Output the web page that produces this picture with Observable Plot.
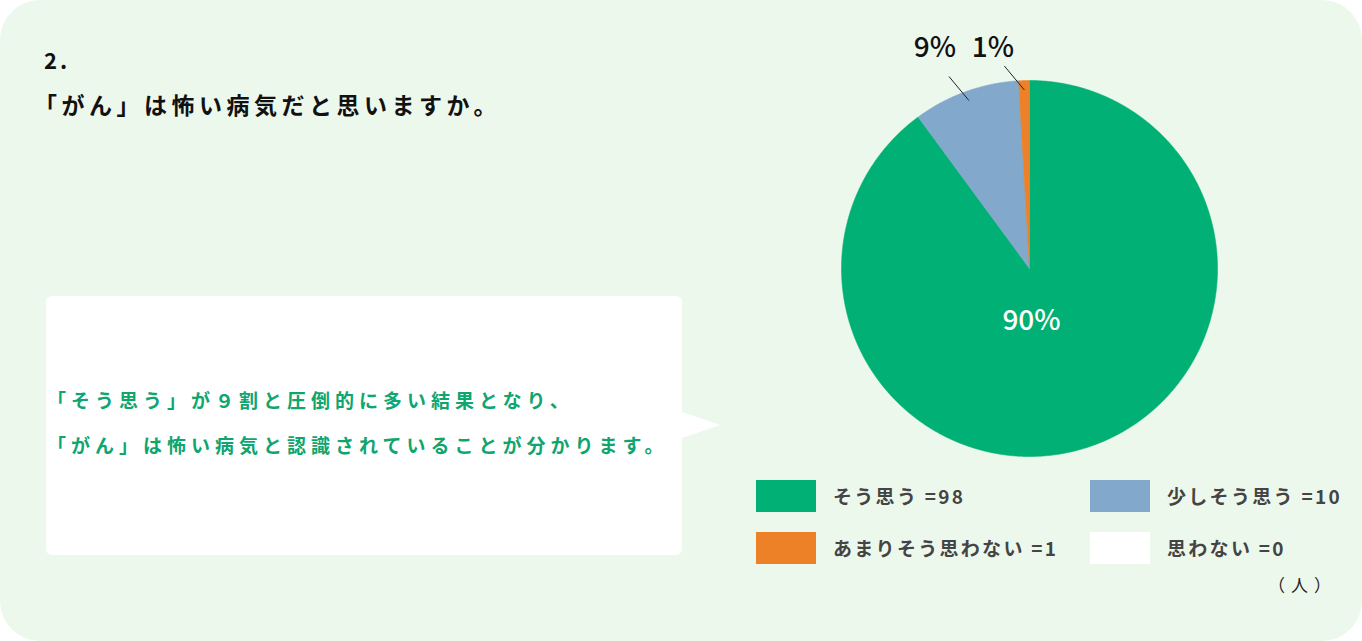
<!DOCTYPE html>
<html><head><meta charset="utf-8">
<script src="https://cdn.jsdelivr.net/npm/d3@7"></script>
<script src="https://cdn.jsdelivr.net/npm/@observablehq/plot@0.6"></script>
<style>
html,body{margin:0;padding:0;background:#ffffff;}
body{font-family:"Noto Sans CJK JP","Noto Sans",sans-serif;width:1362px;height:641px;position:relative;overflow:hidden;}
#card{position:absolute;left:0;top:0;width:1362px;height:641px;background:#edf8ec;border-radius:40px;}
#num{position:absolute;left:44px;top:44px;font-size:22px;line-height:30px;font-weight:700;color:#111;letter-spacing:3px;}
#title{position:absolute;left:34px;top:89px;font-size:23px;line-height:30px;font-weight:700;color:#111;letter-spacing:4.5px;white-space:nowrap;}
#bubble{position:absolute;left:46px;top:296px;width:636px;height:259px;background:#fff;border-radius:6px;}
#tip{position:absolute;left:682px;top:412px;width:0;height:0;border-left:38px solid #fff;border-top:13px solid transparent;border-bottom:13px solid transparent;}
#msg{position:absolute;left:47px;top:377px;font-size:19px;line-height:45px;font-weight:700;color:#0fa56e;letter-spacing:5px;white-space:nowrap;}
#chart{position:absolute;left:780px;top:20px;}
#legend{position:absolute;left:756px;top:480px;width:600px;height:90px;}
.item{position:absolute;height:32px;}
.sw{position:absolute;left:0;top:0;width:60px;height:32px;}
.lab{position:absolute;left:77px;top:0;line-height:32px;font-size:19px;font-weight:700;color:#444;white-space:nowrap;letter-spacing:2.3px;}
#unit{position:absolute;left:1268px;top:571px;font-size:17px;line-height:28px;color:#222;letter-spacing:6px;}
</style></head><body>
<div id="card">
  <div id="num">2.</div>
  <div id="title">「がん」は怖い病気だと思いますか。</div>
  <div id="bubble"></div>
  <div id="tip"></div>
  <div id="msg">「そう思う」が９割と圧倒的に多い結果となり、<br>「がん」は怖い病気と認識されていることが分かります。</div>
  <div id="chart"></div>
  <div id="legend"></div>
  <div id="unit">（人）</div>
</div>
<script>
// ---- data ----
const categories = ["そう思う", "少しそう思う", "あまりそう思わない", "思わない"];
const counts = [98, 10, 1, 0];
const colors = ["#00b074", "#82a8cb", "#ec8127", "#ffffff"];

// ---- geometry (derived) ----
const W = 500, H = 450, CX = 249, CY = 248, R = 188;
const total = d3.sum(counts);
const arcs = d3.pie().sort(null).value(d => d)(counts);

const slicePts = [];
arcs.forEach((a, i) => {
  if (a.value <= 0) return;
  const cat = categories[i];
  slicePts.push({cat, x: 0, y: 0});
  const n = Math.max(2, Math.ceil((a.endAngle - a.startAngle) / 0.005));
  for (let k = 0; k <= n; k++) {
    const t = a.startAngle + (a.endAngle - a.startAngle) * k / n;
    slicePts.push({cat, x: Math.sin(t), y: Math.cos(t)});
  }
  slicePts.push({cat, x: 0, y: 0});
});

const pct = v => Math.round(v / total * 100);
const big = [], small = [];
arcs.forEach((a, i) => {
  if (a.value <= 0) return;
  const mid = (a.startAngle + a.endAngle) / 2;
  const p = a.value / total;
  if (p > 0.5) {
    big.push({label: pct(a.value) + "%", x: 0, y: -0.28});
  } else {
    const x1 = Math.sin(mid) * 0.95, y1 = Math.cos(mid) * 0.95;
    small.push({label: pct(a.value) + "%", x1, y1, x2: x1 - 20 / R, y2: y1 + 24 / R});
  }
});
// place small labels left to right, avoiding overlap
small.sort((a, b) => a.x2 - b.x2);
let prevRight = -Infinity;
const halfW = 25 / R, gap = 8 / R;
small.forEach(d => {
  let cx = d.x2 - 16 / R;
  cx = Math.max(cx, prevRight + gap + halfW);
  d.tx = cx; d.ty = 220 / R;
  prevRight = cx + halfW;
});

const chart = Plot.plot({
  width: W, height: H,
  margin: 0,
  style: {background: "transparent", overflow: "visible"},
  x: {domain: [-1, 1], range: [CX - R, CX + R], axis: null},
  y: {domain: [-1, 1], range: [CY + R, CY - R], axis: null},
  color: {domain: categories, range: colors},
  marks: [
    Plot.line(slicePts, {x: "x", y: "y", z: "cat", fill: "cat", stroke: "cat", strokeWidth: 0.6, curve: "linear"}),
    Plot.text(big, {x: "x", y: "y", text: "label", fill: "#fff", fontSize: 28, fontWeight: 500, fontFamily: "Noto Sans CJK JP", letterSpacing: 4, dx: 2}),
    Plot.link(small, {x1: "x1", y1: "y1", x2: "x2", y2: "y2", stroke: "#222", strokeWidth: 1}),
    Plot.text(small, {x: "tx", y: "ty", text: "label", fill: "#111", fontSize: 28, fontWeight: 500, fontFamily: "Noto Sans CJK JP", letterSpacing: 5, dx: 2})
  ]
});
document.getElementById("chart").appendChild(chart);

// ---- legend ----
const leg = document.getElementById("legend");
categories.forEach((c, i) => {
  const col = i % 2, row = Math.floor(i / 2);
  const it = document.createElement("div");
  it.className = "item";
  it.style.left = (col * 334) + "px";
  it.style.top = (row * 52) + "px";
  it.innerHTML = `<div class="sw" style="background:${colors[i]}"></div><div class="lab">${c} =${counts[i]}</div>`;
  leg.appendChild(it);
});
</script>
</body></html>
